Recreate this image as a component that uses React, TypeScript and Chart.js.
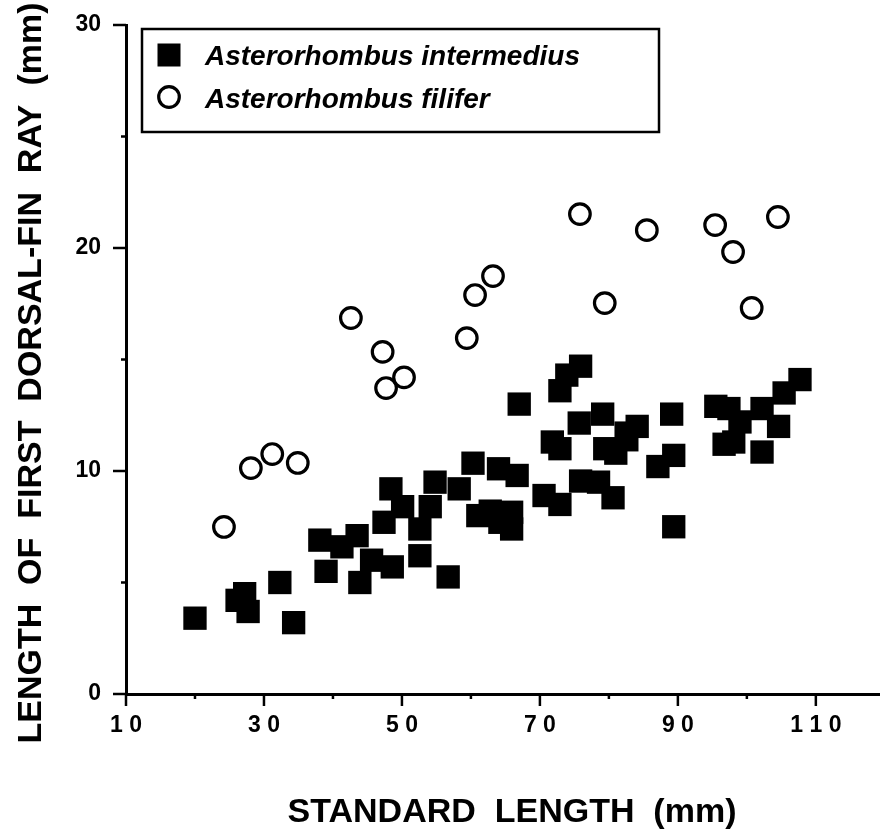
import React, { useEffect, useRef } from 'react';
import { Chart, registerables } from 'chart.js';

Chart.register(...registerables);

// ---- Data ----
const seriesNames = ['Asterorhombus intermedius', 'Asterorhombus filifer'];

const intermediusX = [20.0, 26.1, 27.2, 27.7, 32.3, 34.3, 38.1, 39.0, 41.3, 43.5, 43.9, 45.6, 47.4, 48.4, 48.6, 50.1, 52.6, 52.6, 54.1, 54.8, 56.7, 58.3, 60.3, 61.0, 62.8, 64.0, 64.2, 65.9, 65.9, 66.7, 67.0, 70.6, 71.8, 72.9, 72.9, 72.9, 73.9, 75.9, 75.7, 75.9, 78.5, 79.1, 79.4, 80.6, 81.0, 82.6, 82.5, 84.1, 87.1, 89.1, 89.4, 89.4, 95.5, 97.4, 96.7, 98.1, 99.0, 102.2, 102.2, 104.6, 105.4, 107.7];
const intermediusY = [3.4, 4.2, 4.5, 3.7, 5.0, 3.2, 6.9, 5.5, 6.6, 7.1, 5.0, 6.0, 7.7, 9.2, 5.7, 8.4, 7.4, 6.2, 8.4, 9.5, 5.25, 9.2, 10.35, 8.0, 8.2, 10.1, 7.7, 8.15, 7.4, 9.8, 13.0, 8.9, 11.3, 11.0, 8.5, 13.6, 14.3, 14.7, 12.15, 9.55, 9.5, 12.55, 11.0, 8.8, 10.8, 11.4, 11.7, 12.0, 10.2, 12.55, 10.7, 7.5, 12.9, 12.8, 11.2, 11.3, 12.2, 12.8, 10.85, 12.0, 13.5, 14.1];

const filiferX = [24.2, 28.1, 31.2, 34.9, 42.6, 47.2, 47.7, 50.3, 59.4, 60.6, 63.2, 75.8, 79.4, 85.5, 95.4, 98.0, 100.7, 104.5];
const filiferY = [7.49, 10.13, 10.76, 10.36, 16.86, 15.34, 13.72, 14.2, 15.96, 17.89, 18.74, 21.52, 17.53, 20.8, 21.03, 19.82, 17.31, 21.39];

const xMajorTicks = [10, 30, 50, 70, 90, 110];
const xTickLabels = ['1 0', '3 0', '5 0', '7 0', '9 0', '1 1 0'];
const xMinorTicks = [20, 40, 60, 80, 100];
const yMajorTicks = [0, 10, 20, 30];
const yTickLabels = ['0', '10', '20', '30'];
const yMinorTicks = [5, 15, 25];

const xTitle = 'STANDARD  LENGTH  (mm)';
const yTitle = 'LENGTH  OF  FIRST  DORSAL-FIN  RAY  (mm)';

const FONT = '"Liberation Sans", Arial, Helvetica, sans-serif';

const decorPlugin = {
  id: 'decor',
  afterDraw(chart: any) {
    const ctx = chart.ctx;
    const xs = chart.scales.x;
    const ys = chart.scales.y;
    const area = chart.chartArea;
    ctx.save();
    ctx.strokeStyle = '#000';
    ctx.fillStyle = '#000';
    ctx.lineWidth = 2.5;
    ctx.lineCap = 'butt';
    const drawY = (v: number, len: number) => {
      const y = ys.getPixelForValue(v);
      ctx.beginPath();
      ctx.moveTo(area.left - len, y);
      ctx.lineTo(area.left, y);
      ctx.stroke();
    };
    yMajorTicks.forEach((v) => drawY(v, 13));
    yMinorTicks.forEach((v) => drawY(v, 5));
    const drawX = (v: number, len: number) => {
      const x = xs.getPixelForValue(v);
      ctx.beginPath();
      ctx.moveTo(x, area.bottom);
      ctx.lineTo(x, area.bottom + len);
      ctx.stroke();
    };
    xMajorTicks.forEach((v) => drawX(v, 12));
    xMinorTicks.forEach((v) => drawX(v, 5));

    // axis titles
    ctx.font = `bold 34px ${FONT}`;
    ctx.textAlign = 'center';
    ctx.textBaseline = 'alphabetic';
    ctx.fillText(xTitle, 512, 822);
    ctx.save();
    ctx.translate(41, 373);
    ctx.rotate(-Math.PI / 2);
    ctx.fillText(yTitle, 0, 0);
    ctx.restore();

    // legend box
    ctx.lineWidth = 2.5;
    ctx.strokeRect(142, 29, 517, 103);
    ctx.fillRect(157.5, 43.5, 23, 23);
    ctx.lineWidth = 3.2;
    ctx.beginPath();
    ctx.arc(169, 97, 10.3, 0, Math.PI * 2);
    ctx.stroke();
    ctx.font = `italic bold 28px ${FONT}`;
    ctx.textAlign = 'left';
    ctx.fillText(seriesNames[0], 205, 65);
    ctx.fillText(seriesNames[1], 205, 108);
    ctx.restore();
  },
};

export default function App() {
  const ref = useRef<HTMLCanvasElement | null>(null);
  useEffect(() => {
    if (!ref.current) return;
    const chart = new Chart(ref.current, {
      type: 'scatter',
      data: {
        datasets: [
          {
            label: seriesNames[0],
            data: intermediusX.map((x, i) => ({ x, y: intermediusY[i] })),
            pointStyle: 'rect',
            pointRadius: 16.5,
            backgroundColor: '#000',
            borderColor: '#000',
            borderWidth: 0,
          },
          {
            label: seriesNames[1],
            data: filiferX.map((x, i) => ({ x, y: filiferY[i] })),
            pointStyle: 'circle',
            pointRadius: 10.3,
            backgroundColor: 'rgba(0,0,0,0)',
            borderColor: '#000',
            borderWidth: 3.2,
          },
        ],
      },
      options: {
        responsive: false,
        animation: false,
        events: [],
        layout: { autoPadding: false, padding: { top: 25, left: 0, right: 0, bottom: 0 } },
        plugins: {
          legend: { display: false },
          tooltip: { enabled: false },
        },
        scales: {
          x: {
            type: 'linear',
            min: 10,
            max: 119.3,
            afterFit: (s: any) => {
              s.height = 138;
              s.paddingLeft = 0;
              s.paddingRight = 0;
              s.paddingTop = 0;
              s.paddingBottom = 0;
            },
            afterBuildTicks: (s: any) => {
              s.ticks = xMajorTicks.map((v) => ({ value: v }));
            },
            grid: { display: false, drawTicks: false },
            border: { display: true, color: '#000', width: 3 },
            ticks: {
              color: '#000',
              padding: 18,
              maxRotation: 0,
              autoSkip: false,
              font: { family: FONT, size: 23, weight: 'bold' },
              callback: (v: any) => {
                const i = xMajorTicks.indexOf(Number(v));
                return i >= 0 ? xTickLabels[i] : '';
              },
            },
          },
          y: {
            type: 'linear',
            min: 0,
            max: 30,
            afterFit: (s: any) => {
              s.width = 126;
              s.paddingLeft = 0;
              s.paddingRight = 0;
              s.paddingTop = 0;
              s.paddingBottom = 0;
            },
            afterBuildTicks: (s: any) => {
              s.ticks = yMajorTicks.map((v) => ({ value: v }));
            },
            grid: { display: false, drawTicks: false },
            border: { display: true, color: '#000', width: 3 },
            ticks: {
              color: '#000',
              padding: 25,
              autoSkip: false,
              font: { family: FONT, size: 23, weight: 'bold' },
              callback: (v: any) => {
                const i = yMajorTicks.indexOf(Number(v));
                return i >= 0 ? yTickLabels[i] : '';
              },
            },
          },
        },
      },
      plugins: [decorPlugin],
    });
    return () => chart.destroy();
  }, []);
  return (
    <div style={{ position: 'absolute', left: 0, top: 0, width: 880, height: 832, background: '#fff' }}>
      <canvas ref={ref} width={880} height={832} style={{ display: 'block' }} />
    </div>
  );
}
